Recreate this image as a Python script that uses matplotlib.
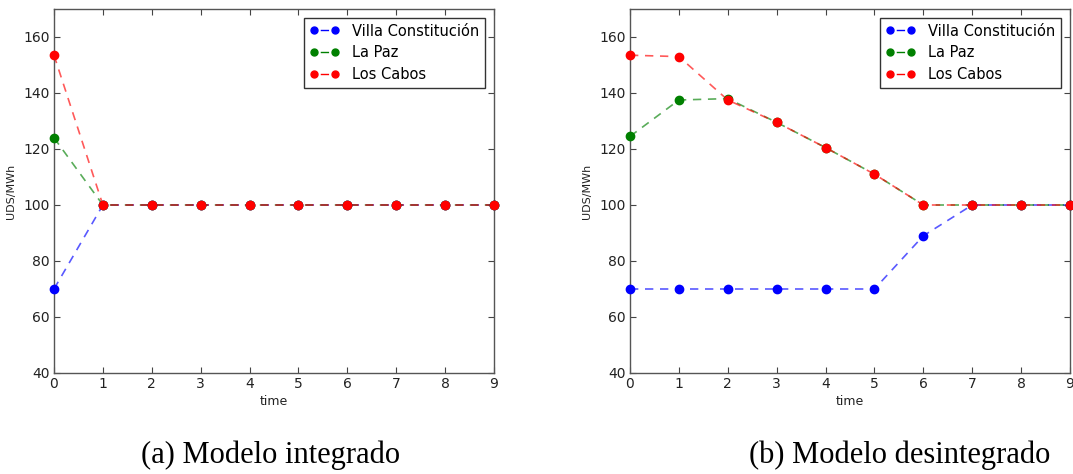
import matplotlib
matplotlib.use("Agg")
import matplotlib.pyplot as plt
from matplotlib.lines import Line2D

time = [0, 1, 2, 3, 4, 5, 6, 7, 8, 9]
series_names = ["Villa Constitución", "La Paz", "Los Cabos"]
colors = ["#0000ff", "#008000", "#ff0000"]

# (a) Modelo integrado
int_villa = [70, 100, 100, 100, 100, 100, 100, 100, 100, 100]
int_lapaz = [124, 100, 100, 100, 100, 100, 100, 100, 100, 100]
int_cabos = [153.5, 100, 100, 100, 100, 100, 100, 100, 100, 100]

# (b) Modelo desintegrado
des_villa = [70, 70, 70, 70, 70, 70, 89, 100, 100, 100]
des_lapaz = [124.5, 137.5, 138, 129.5, 120.5, 111, 100, 100, 100, 100]
des_cabos = [153.5, 153, 137.5, 129.5, 120.5, 111, 100, 100, 100, 100]

captions = ["(a) Modelo integrado", "(b) Modelo desintegrado"]
yticks = [40, 60, 80, 100, 120, 140, 160]

fig = plt.figure(figsize=(10.73, 4.74), dpi=100)
fig.patch.set_facecolor("white")

W, H = 1073, 474
ax_specs = [(54, 494), (630, 1070)]
top_px, bot_px = 9, 373

datasets = [(int_villa, int_lapaz, int_cabos), (des_villa, des_lapaz, des_cabos)]
cap_x = [271, 900]
dash = (0, (5, 4))
leg_dash = (0, (1.5, 3, 6, 3))

for i, ((l, r), data) in enumerate(zip(ax_specs, datasets)):
    ax = fig.add_axes([l / W, 1 - bot_px / H, (r - l) / W, (bot_px - top_px) / H])
    handles = []
    for name, vals, c in zip(series_names, data, colors):
        ax.plot(time, vals, linestyle=dash, color=c, lw=1.2, alpha=0.65,
                clip_on=False, zorder=2)
        ax.plot(time, vals, linestyle="none", marker="o", color=c,
                markersize=6, markeredgecolor=c, clip_on=False, zorder=3)
        handles.append(Line2D([], [], linestyle=leg_dash, color=c, lw=1.0,
                              marker="o", markersize=5, label=name))
    ax.set_xlim(0, 9)
    ax.set_ylim(40, 170)
    ax.set_yticks(yticks)
    ax.set_xticks(time)
    ax.tick_params(direction="in", top=True, right=True, labelsize=10,
                   length=4, colors="#444444", labelcolor="#222222", pad=3)
    for s in ax.spines.values():
        s.set_color("#555555")
        s.set_linewidth(1.0)
    ax.set_xlabel("time", fontsize=9, color="#222222", labelpad=3)
    ax.set_ylabel("UDS/MWh", fontsize=8, color="#222222", labelpad=5)
    leg = ax.legend(handles=handles, loc="upper right", fontsize=10.5,
                    numpoints=2, fancybox=False, framealpha=1,
                    borderaxespad=0.6, handlelength=2.0, handletextpad=0.9,
                    labelspacing=0.45)
    leg.get_frame().set_edgecolor("#333333")
    fig.text(cap_x[i] / W, 1 - 455 / H, captions[i], ha="center", va="center",
             fontsize=22, family="Liberation Serif")

fig.savefig("out.png", dpi=100, facecolor="white")
